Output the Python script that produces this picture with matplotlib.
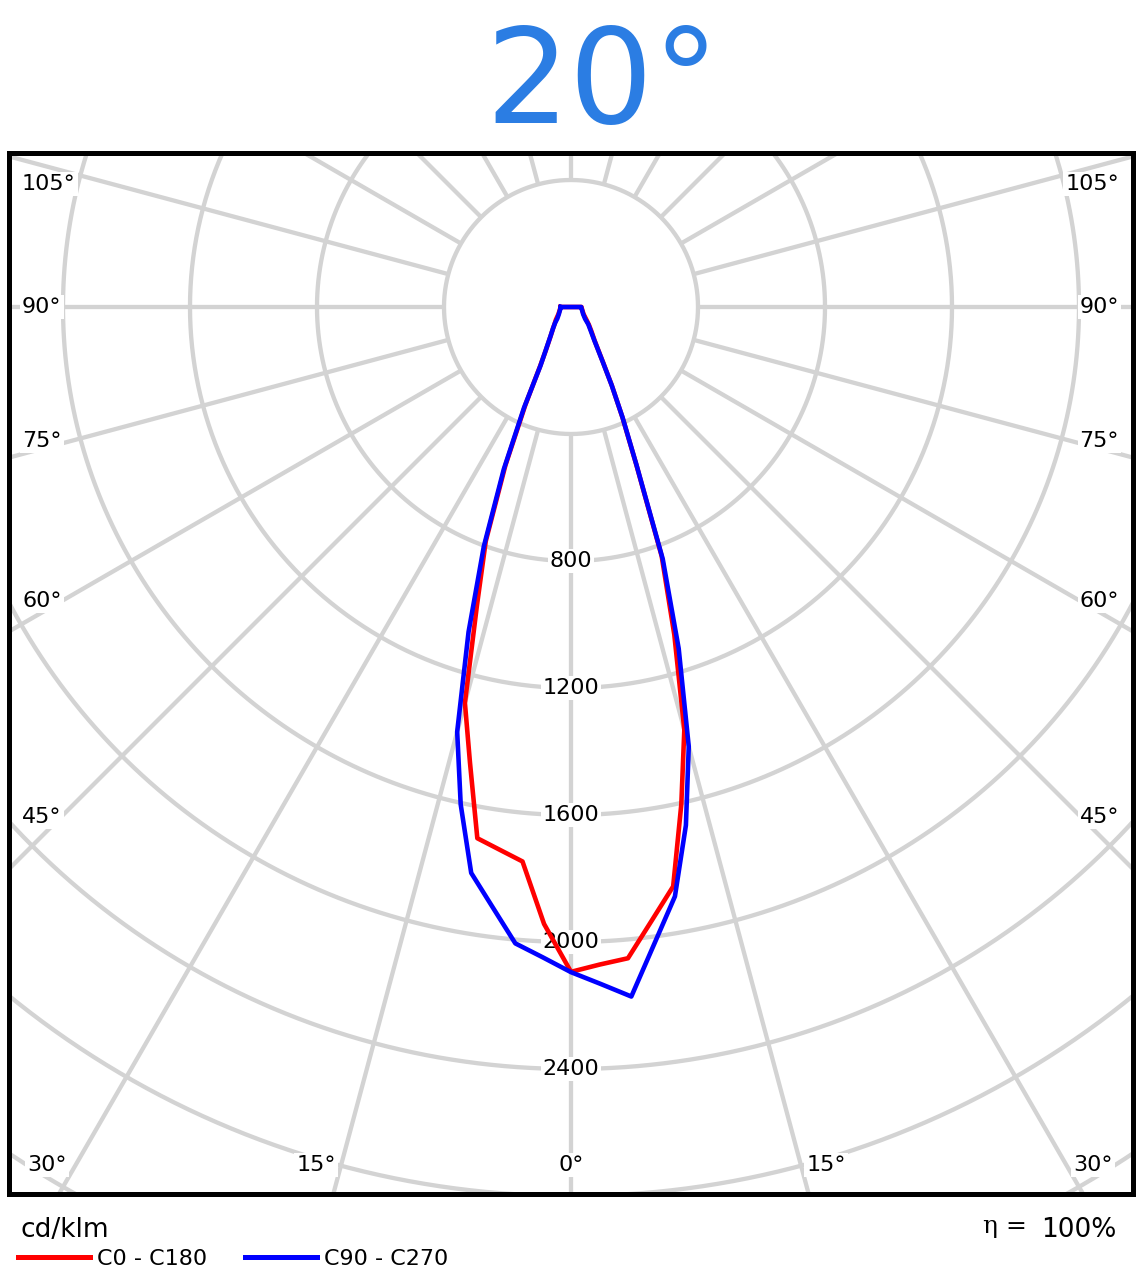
import numpy as np
import matplotlib

matplotlib.use("Agg")
import matplotlib.pyplot as plt
from matplotlib.lines import Line2D

# ---- data (cd/klm vs gamma angle, degrees) ----
gamma = [0, 2.5, 5, 7.5, 10, 12.5, 15, 17.5, 20, 22.5, 25, 27.5, 30,
         35, 40, 45, 50, 60, 70, 80, 90]
c0 = [2094, 2073, 2059, 1949, 1853, 1605, 1379, 1082, 835, 538, 383, 278, 203,
      130, 100, 80, 64, 46, 39, 35, 33]
c180 = [2094, 1945, 1753, 1724, 1699, 1470, 1291, 985, 785, 540, 340, 212, 160,
        112, 88, 72, 62, 46, 39, 35, 33]
c90 = [2095, 2134, 2180, 2020, 1885, 1672, 1433, 1128, 845, 540, 385, 277, 201,
       128, 96, 77, 58, 44, 38, 34, 32]
c270 = [2095, 2050, 2012, 1904, 1810, 1605, 1385, 1073, 803, 553, 350, 208, 162,
        113, 88, 71, 56, 44, 38, 34, 32]

ring_values = [400, 800, 1200, 1600, 2000, 2400, 2800, 3200, 3600, 4000]
ring_labels = [800, 1200, 1600, 2000, 2400]
spoke_angles = np.arange(0, 360, 15)

side_labels = ["105°", "90°", "75°", "60°", "45°"]
bottom_labels = ["30°", "15°", "0°", "15°", "30°"]
series_names = ["C0 - C180", "C90 - C270"]
title_text = "20°"
unit_text = "cd/klm"
eta_value = "100%"

# ---- layout (pixels of the 1143 x 1287 image) ----
W, H = 1143, 1287
CX, CY = 571, 307            # pole of the diagram
PX_PER_CD = 127.0 / 400.0
FRAME = (9, 152.5, 1133, 1194)   # left, top, right, bottom
GRID = "#d3d3d3"
RED, BLUE = "#ff0000", "#0000ff"


def fx(px):
    return px / W


def fy(py):
    return 1 - py / H


def polar_xy(angles, values, side):
    a = np.radians(angles)
    v = np.asarray(values, dtype=float)
    return side * v * np.sin(a), -v * np.cos(a)


fig = plt.figure(figsize=(W / 100, H / 100), dpi=100)
l, t, r, b = FRAME
ax = fig.add_axes([fx(l), fy(b), (r - l) / W, (b - t) / H])
ax.set_xlim((l - CX) / PX_PER_CD, (r - CX) / PX_PER_CD)
ax.set_ylim(-(b - CY) / PX_PER_CD, (CY - t) / PX_PER_CD)
ax.set_xticks([])
ax.set_yticks([])
for sp in ax.spines.values():
    sp.set_linewidth(3.6)
    sp.set_color("black")
    sp.set_zorder(10)

# grid rings
tt = np.linspace(0, 2 * np.pi, 721)
for rv in ring_values:
    ax.plot(rv * np.cos(tt), rv * np.sin(tt), color=GRID, lw=3.1, zorder=1,
            solid_capstyle="butt")

# spokes from the 400 ring outwards
for a in spoke_angles:
    rr = np.array([ring_values[0], 6000])
    ax.plot(rr * np.sin(np.radians(a)), -rr * np.cos(np.radians(a)),
            color=GRID, lw=3.1, zorder=1, solid_capstyle="butt")

# ring value labels on the 0° spoke
for rv in ring_labels:
    ax.text(0, -rv, str(rv), ha="center", va="center", fontsize=16, zorder=3,
            bbox=dict(facecolor="white", edgecolor="none", pad=1.5))

# curves: closed loop, left half (C180 / C270) from 90° down to 0°,
# then right half back up to 90°, then across the top
for right, left, col in [(c0, c180, RED), (c90, c270, BLUE)]:
    xl, yl = polar_xy(gamma, left, -1)
    xr, yr = polar_xy(gamma, right, 1)
    xs = np.concatenate([xl[::-1], xr, xl[-1:]])
    ys = np.concatenate([yl[::-1], yr, yl[-1:]])
    ax.plot(xs, ys, color=col, lw=3.3, zorder=5, solid_joinstyle="round")

# angle labels around the frame
lab_box = dict(facecolor="white", edgecolor="none", pad=1.5)
side_y = [184, 307, 441, 601, 817]
for txt, py in zip(side_labels, side_y):
    fig.text(fx(22), fy(py), txt, ha="left", va="center", fontsize=16,
             bbox=lab_box, zorder=6)
    fig.text(fx(1119), fy(py), txt, ha="right", va="center", fontsize=16,
             bbox=lab_box, zorder=6)
bottom_x = [47, 316, 571, 826, 1093]
for txt, px in zip(bottom_labels, bottom_x):
    fig.text(fx(px), fy(1165), txt, ha="center", va="center", fontsize=16,
             bbox=lab_box, zorder=6)

# title
fig.text(fx(602), fy(123), title_text, ha="center", va="baseline",
         fontsize=95, color="#2b7de3")

# legend block
fig.text(fx(21), fy(1237), unit_text, ha="left", va="baseline", fontsize=19)
fig.add_artist(Line2D([fx(18), fx(90)], [fy(1257), fy(1257)], color=RED,
                      lw=3.6, transform=fig.transFigure))
fig.text(fx(97), fy(1259), series_names[0], ha="left", va="center", fontsize=16)
fig.add_artist(Line2D([fx(245), fx(317)], [fy(1257), fy(1257)], color=BLUE,
                      lw=3.6, transform=fig.transFigure))
fig.text(fx(324), fy(1259), series_names[1], ha="left", va="center", fontsize=16)

fig.text(fx(1116), fy(1237), eta_value, ha="right", va="baseline", fontsize=19)
fig.text(fx(1027), fy(1233), "η =", ha="right", va="baseline", fontsize=18,
         family="DejaVu Serif")

fig.savefig("out.png", dpi=100)
